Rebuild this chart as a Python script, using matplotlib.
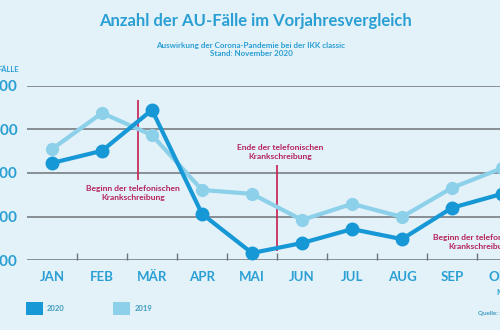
import matplotlib.pyplot as plt
from matplotlib.patches import Patch

# Monate und AU-Fälle
monate = ["JAN", "FEB", "MÄR", "APR", "MAI", "JUN", "JUL", "AUG", "SEP", "OKT"]
faelle_2020 = [323000, 351000, 445000, 206000, 116000, 139000, 171000, 148000, 220000, 252000]
faelle_2019 = [355000, 438000, 387000, 261000, 252000, 192000, 229000, 199000, 266000, 311000]
y_ticks = [100000, 200000, 300000, 400000, 500000]
y_labels = ["100.000", "200.000", "300.000", "400.000", "500.000"]

bg = "#e3f1f8"
blau = "#1697d6"
hellblau = "#8dd0ea"
text_blau = "#2a9fd4"
rot = "#c81e50"
grau = "#6e7479"

plt.rcParams["font.family"] = ["Lato", "DejaVu Sans"]

fig = plt.figure(figsize=(5, 3.3), dpi=100, facecolor=bg)
# Achse ragt rechts über den Bildrand hinaus (Ausschnitt wie im Original)
ax = fig.add_axes([27 / 500, 70 / 330, 500 / 500, 174 / 330])
ax.set_facecolor(bg)

pos = range(len(monate))
ax.plot(pos, faelle_2019, color=hellblau, lw=3, marker="o", ms=8.5, clip_on=False, zorder=3)
ax.plot(pos, faelle_2020, color=blau, lw=3, marker="o", ms=9, clip_on=False, zorder=4)

ax.set_yticks(y_ticks)
ax.set_yticklabels(y_labels, fontsize=11, fontweight="bold", color=text_blau)
ax.tick_params(axis="y", length=0, pad=7)
ax.grid(axis="y", color=grau, lw=1.1)
ax.set_xticks(list(pos))
ax.set_xticklabels(monate, fontsize=9.5, fontweight="bold", color=text_blau)
ax.set_xticks([p + 0.5 for p in pos], minor=True)
ax.tick_params(axis="x", which="major", length=0, pad=8)
ax.tick_params(axis="x", which="minor", direction="in", length=5, color=grau, width=1)
ax.set_xlim(-0.5, 9.5)
ax.set_ylim(100000, 500000)
for s in ax.spines.values():
    s.set_visible(False)
ax.set_axisbelow(True)

# Markierungen telefonische Krankschreibung
ax.vlines(1.72, 284000, 468000, color=rot, lw=1.2, zorder=2)
ax.vlines(4.5, 121000, 318000, color=rot, lw=1.2, zorder=2)
anno = dict(ha="center", va="center", fontsize=6.1, fontweight="bold", color="#b5245b",
            linespacing=1.3)
ax.text(1.62, 254000, "Beginn der telefonischen\nKrankschreibung", **anno)
ax.text(4.56, 349000, "Ende der telefonischen\nKrankschreibung", **anno)
ax.text(8.56, 141000, "Beginn der telefonischen\nKrankschreibung", **anno)

fig.text(0.51, 0.936, "Anzahl der AU-Fälle im Vorjahresvergleich", ha="center", va="center",
         fontsize=12, fontweight="bold", color=text_blau)
fig.text(0.502, 0.85, "Auswirkung der Corona-Pandemie bei der IKK classic\nStand: November 2020",
         ha="center", va="center", fontsize=5.8, fontweight="bold", color=text_blau,
         linespacing=1.3)
fig.text(-0.005, 0.79, "FÄLLE", ha="left", va="center", fontsize=5.5, fontweight="bold",
         color=text_blau)
fig.text(0.992, 0.115, "Monat", ha="left", va="center", fontsize=5.5, fontweight="bold",
         color=text_blau)
fig.text(0.955, 0.05, "Quelle: IKK classic", ha="left", va="center", fontsize=4.5,
         fontweight="bold", color="#3a9bbf")

handles = [Patch(facecolor=blau, label="2020"), Patch(facecolor=hellblau, label="2019")]
leg = fig.legend(handles=handles, loc="center left", bbox_to_anchor=(0.045, 0.064), ncol=2,
                 frameon=False, fontsize=5.5, handlelength=2.3, handleheight=2.2,
                 handletextpad=0.5, columnspacing=6.3, borderaxespad=0)
for t in leg.get_texts():
    t.set_color("#3a9bbf")
    t.set_fontweight("bold")

fig.savefig("out.png", dpi=100, facecolor=bg)
